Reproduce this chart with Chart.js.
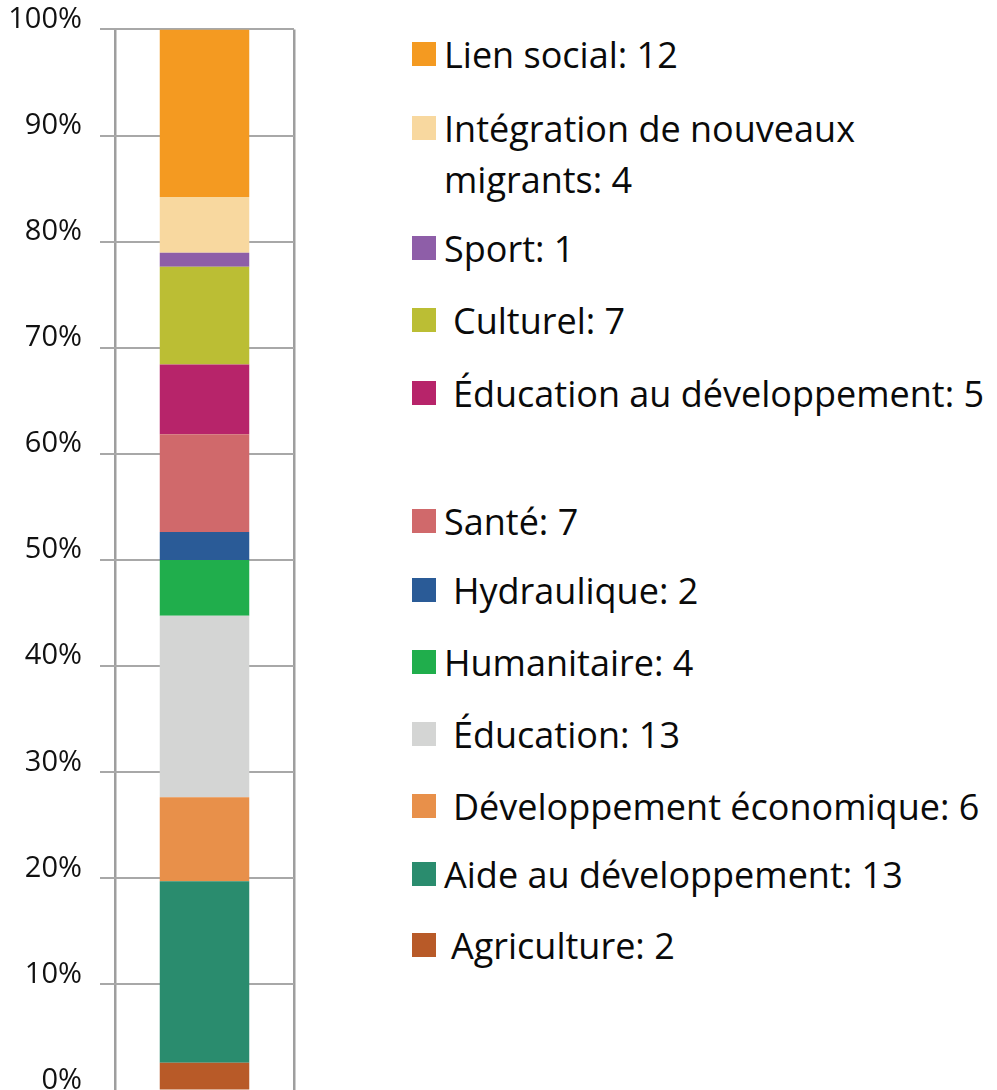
<!DOCTYPE html>
<html>
<head>
<meta charset="utf-8">
<script src="https://cdn.jsdelivr.net/npm/chart.js@4/dist/chart.umd.min.js"></script>
<style>
  html, body { margin: 0; padding: 0; background: #fff; width: 997px; height: 1090px; overflow: hidden; }
  #wrap { position: relative; width: 997px; height: 1090px; overflow: hidden; }
  #c { position: absolute; left: 0; top: -6px; }
  .item { position: absolute; left: 412px; display: flex; align-items: flex-start; font-family: "Open Sans", sans-serif; font-size: 36px; line-height: 51px; color: #0a0a0a; white-space: nowrap; }
  .sw { width: 24px; height: 24px; margin-top: 13px; flex: none; }
  .txt { margin-left: 8px; }
</style>
</head>
<body>
<div id="wrap">
  <canvas id="c"></canvas>
  <div id="legend"></div>
</div>
<script>
// Categories from bottom of the stack to top
const categories = ["Agriculture", "Aide au développement", "Développement économique", "Éducation", "Humanitaire", "Hydraulique", "Santé", "Éducation au développement", "Culturel", "Sport", "Intégration de nouveaux migrants", "Lien social"];
const counts = [2, 13, 6, 13, 4, 2, 7, 5, 7, 1, 4, 12];
const colors = ["#B85A28", "#2A8C6E", "#E8904A", "#D4D5D4", "#20AE4C", "#2A5B97", "#D0696B", "#B7246A", "#BBBE34", "#8E5EA8", "#F8D89F", "#F49A21"];
const yTicks = ["0%", "10%", "20%", "30%", "40%", "50%", "60%", "70%", "80%", "90%", "100%"];

// Legend layout (top to bottom): vertical centre of first line, extra indent, line breaks
const legendOrder = [11, 10, 9, 8, 7, 6, 5, 4, 3, 2, 1, 0];
const legendCenters = [54, 128, 248, 320, 393, 521, 590, 662, 734, 806, 874, 945];
const legendIndent = [0, 0, 0, 9, 9, 0, 9, 0, 9, 9, 0, 7];
const legendBreak = { 10: ["Intégration de nouveaux", "migrants"] };

const total = counts.reduce((a, b) => a + b, 0);

const datasets = categories.map((name, i) => ({
  label: name,
  data: [counts[i] / total * 100],
  backgroundColor: colors[i],
  borderWidth: 0,
  barPercentage: 0.5,
  categoryPercentage: 1.0
}));

const canvas = document.getElementById('c');
canvas.width = 330; canvas.height = 1132;
canvas.style.width = '330px'; canvas.style.height = '1132px';

new Chart(canvas, {
  type: 'bar',
  data: { labels: [""], datasets },
  options: {
    responsive: false,
    animation: false,
    events: [],
    layout: { padding: { top: 26, right: 36, bottom: 22, left: 0 } },
    plugins: { legend: { display: false }, tooltip: { enabled: false } },
    scales: {
      x: {
        stacked: true,
        grid: { display: true, offset: true, color: '#9e9e9e', lineWidth: 2.5, drawTicks: false },
        border: { display: false },
        ticks: { display: false }
      },
      y: {
        stacked: true,
        min: 0, max: 100,
        afterFit: s => { s.width = 115; },
        afterBuildTicks: s => { s.ticks = yTicks.map((t, i) => ({ value: i * 10 })); },
        ticks: {
          stepSize: 10,
          padding: 18,
          labelOffset: -10,
          color: '#111',
          font: { family: 'Open Sans', size: 29 },
          callback: (v, i) => yTicks[i]
        },
        grid: { color: '#a8a8a8', lineWidth: 2, tickLength: 15 },
        border: { display: false }
      }
    }
  }
});

const legend = document.getElementById('legend');
legendOrder.forEach((idx, k) => {
  const div = document.createElement('div');
  div.className = 'item';
  div.style.top = (legendCenters[k] - 25.5) + 'px';
  const sw = document.createElement('div');
  sw.className = 'sw';
  sw.style.background = colors[idx];
  const txt = document.createElement('div');
  txt.className = 'txt';
  txt.style.marginLeft = (8 + legendIndent[k]) + 'px';
  if (legendBreak[idx]) {
    const [l1, l2] = legendBreak[idx];
    txt.appendChild(document.createTextNode(l1));
    txt.appendChild(document.createElement('br'));
    txt.appendChild(document.createTextNode(l2 + ': ' + counts[idx]));
  } else {
    txt.textContent = categories[idx] + ': ' + counts[idx];
  }
  div.appendChild(sw);
  div.appendChild(txt);
  legend.appendChild(div);
});
</script>
</body>
</html>
